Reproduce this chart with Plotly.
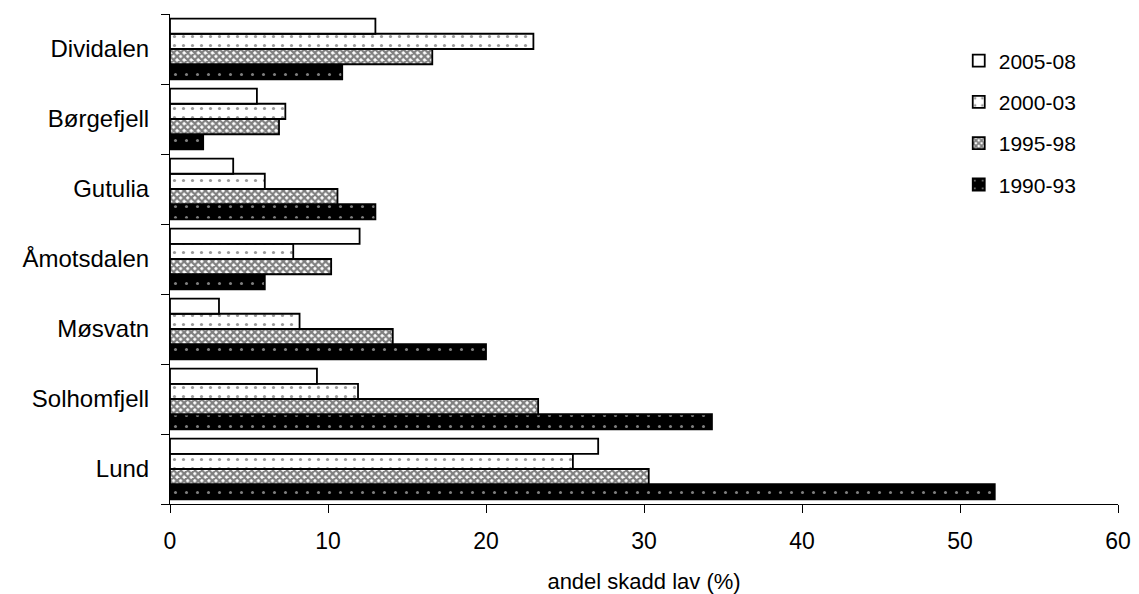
import plotly.graph_objects as go

# Sites, listed from bottom to top as Plotly draws them
sites = ["Lund", "Solhomfjell", "Møsvatn", "Åmotsdalen", "Gutulia", "Børgefjell", "Dividalen"]

# Share of damaged lichen (%) per period, same order as sites
p_1990_93 = [52.2, 34.3, 20.0, 6.0, 13.0, 2.1, 10.9]
p_1995_98 = [30.3, 23.3, 14.1, 10.2, 10.6, 6.9, 16.6]
p_2000_03 = [25.5, 11.9, 8.2, 7.8, 6.0, 7.3, 23.0]
p_2005_08 = [27.1, 9.3, 3.1, 12.0, 4.0, 5.5, 13.0]

x_ticks = [0, 10, 20, 30, 40, 50, 60]

FONT = "Liberation Sans, Arial, sans-serif"

# First trace sits lowest in each group, so start with the oldest period;
# the legend rank puts the newest period on top
series = [
    ("1990-93", p_1990_93, "black", 4, dict(shape=".", fgcolor="white", bgcolor="black", size=11, solidity=0.06)),
    ("1995-98", p_1995_98, "white", 3, dict(shape="x", fgcolor="black", bgcolor="white", size=5, solidity=0.7)),
    ("2000-03", p_2000_03, "white", 2, dict(shape=".", fgcolor="#333333", bgcolor="white", size=9, solidity=0.1)),
    ("2005-08", p_2005_08, "white", 1, dict(shape="")),
]

fig = go.Figure()
for name, values, colour, rank, pattern in series:
    fig.add_trace(go.Bar(
        y=sites, x=values, name=name, orientation="h",
        legendgroup=name, legendrank=rank,
        marker=dict(color=colour, pattern=pattern,
                    line=dict(color="black", width=1.8)),
    ))

fig.update_layout(
    barmode="group",
    bargap=0.13,
    bargroupgap=0,
    width=1139, height=594,
    margin=dict(l=170, r=21, t=14, b=90),
    plot_bgcolor="white",
    paper_bgcolor="white",
    font=dict(family=FONT, size=23, color="black"),
    legend=dict(
        x=0.832, y=0.946, xanchor="left", yanchor="top",
        traceorder="grouped",
        tracegroupgap=11,
        font=dict(family=FONT, size=21),
        itemwidth=30,
        bgcolor="rgba(0,0,0,0)",
    ),
    showlegend=True,
)

fig.update_xaxes(
    range=[0, 60], tickvals=x_ticks,
    showline=True, linecolor="black", linewidth=1,
    ticks="outside", ticklen=8, tickcolor="black",
    showgrid=False, zeroline=False, automargin=False,
    ticklabelstandoff=8,
    title=dict(text="andel skadd lav (%)", standoff=22,
               font=dict(family=FONT, size=22, color="black")),
)
fig.update_yaxes(
    categoryorder="array", categoryarray=sites,
    showline=True, linecolor="black", linewidth=1,
    ticks="outside", ticklen=8, tickcolor="black",
    tickson="boundaries", automargin=False,
    showgrid=False, ticklabelstandoff=15,
    tickfont=dict(family=FONT, size=24),
)

# drop the page's default body margin so the figure fills the window
fig.write_html("out.html", config={"displayModeBar": False},
               post_script="document.body.style.margin = '0';")
